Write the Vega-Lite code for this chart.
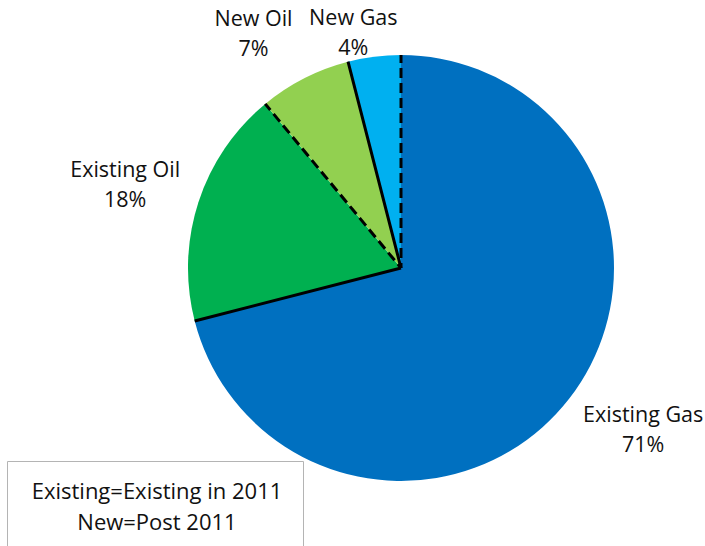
{
  "$schema": "https://vega.github.io/schema/vega-lite/v6.json",
  "width": 426,
  "height": 426,
  "autosize": {"type": "none"},
  "padding": {"left": 188, "top": 55, "right": 91, "bottom": 65},
  "background": "white",
  "config": {"view": {"stroke": null}, "font": "Open Sans"},
  "datasets": {
    "shares": [
      {"source": "Existing Gas", "share": 71, "label": "Existing Gas\n71%"},
      {"source": "Existing Oil", "share": 18, "label": "Existing Oil\n18%"},
      {"source": "New Oil", "share": 7, "label": "New Oil\n7%"},
      {"source": "New Gas", "share": 4, "label": "New Gas\n4%"}
    ],
    "note": [
      {"note": "Existing=Existing in 2011"},
      {"note": "New=Post 2011"}
    ]
  },
  "data": {"name": "shares"},
  "layer": [
    {
      "mark": {"type": "arc", "outerRadius": 213},
      "encoding": {
        "theta": {"field": "share", "type": "quantitative", "stack": true, "scale": {"domain": [0, 100]}},
        "order": {"field": "share", "type": "quantitative", "sort": "descending"},
        "color": {
          "field": "source",
          "type": "nominal",
          "scale": {
            "domain": ["Existing Gas", "Existing Oil", "New Oil", "New Gas"],
            "range": ["#0070C0", "#00B050", "#92D050", "#00B0F0"]
          },
          "legend": null
        }
      }
    },
    {
      "transform": [
        {"stack": "share", "groupby": [], "sort": [{"field": "share", "order": "descending"}], "as": ["s0", "s1"]},
        {"filter": "datum.source === 'Existing Oil' || datum.source === 'New Gas'"}
      ],
      "mark": {"type": "arc", "outerRadius": 213, "stroke": "black", "strokeWidth": 3, "fillOpacity": 0},
      "encoding": {
        "theta": {"field": "s0", "type": "quantitative", "stack": null},
        "theta2": {"field": "s0"}
      }
    },
    {
      "transform": [
        {"stack": "share", "groupby": [], "sort": [{"field": "share", "order": "descending"}], "as": ["s0", "s1"]},
        {"filter": "datum.source === 'Existing Gas' || datum.source === 'New Oil'"}
      ],
      "mark": {"type": "arc", "outerRadius": 213, "stroke": "black", "strokeWidth": 3, "fillOpacity": 0, "strokeDash": [10, 5], "strokeDashOffset": 2},
      "encoding": {
        "theta": {"field": "s0", "type": "quantitative", "stack": null},
        "theta2": {"field": "s0"}
      }
    },
    {
      "mark": {"type": "text", "radius": 290, "dx": 13, "dy": -24, "align": "center", "baseline": "alphabetic", "lineBreak": "\n", "lineHeight": 30, "fontSize": 21.5, "font": "Open Sans", "color": "#111111"},
      "encoding": {
        "theta": {"field": "share", "type": "quantitative", "stack": true},
        "order": {"field": "share", "type": "quantitative", "sort": "descending"},
        "text": {"condition": {"test": "datum.source === 'Existing Gas'", "field": "label"}, "value": ""}
      }
    },
    {
      "mark": {"type": "text", "radius": 290, "dx": 0, "dy": -1, "align": "center", "baseline": "alphabetic", "lineBreak": "\n", "lineHeight": 30, "fontSize": 21.5, "font": "Open Sans", "color": "#111111"},
      "encoding": {
        "theta": {"field": "share", "type": "quantitative", "stack": true},
        "order": {"field": "share", "type": "quantitative", "sort": "descending"},
        "text": {"condition": {"test": "datum.source === 'Existing Oil'", "field": "label"}, "value": ""}
      }
    },
    {
      "mark": {"type": "text", "radius": 272, "dx": -24, "dy": 0, "align": "center", "baseline": "alphabetic", "lineBreak": "\n", "lineHeight": 30, "fontSize": 21.5, "font": "Open Sans", "color": "#111111"},
      "encoding": {
        "theta": {"field": "share", "type": "quantitative", "stack": true},
        "order": {"field": "share", "type": "quantitative", "sort": "descending"},
        "text": {"condition": {"test": "datum.source === 'New Oil'", "field": "label"}, "value": ""}
      }
    },
    {
      "mark": {"type": "text", "radius": 245, "dx": -17, "dy": 0, "align": "center", "baseline": "alphabetic", "lineBreak": "\n", "lineHeight": 30, "fontSize": 21.5, "font": "Open Sans", "color": "#111111"},
      "encoding": {
        "theta": {"field": "share", "type": "quantitative", "stack": true},
        "order": {"field": "share", "type": "quantitative", "sort": "descending"},
        "text": {"condition": {"test": "datum.source === 'New Gas'", "field": "label"}, "value": ""}
      }
    },
    {
      "data": {"name": "note"},
      "mark": {"type": "point", "opacity": 0},
      "encoding": {
        "shape": {
          "field": "note",
          "type": "nominal",
          "scale": {"domain": ["Existing=Existing in 2011", "New=Post 2011"]},
          "legend": {
            "orient": "none",
            "legendX": -181,
            "legendY": 406,
            "title": null,
            "strokeColor": "#b4b4b4",
            "fillColor": "white",
            "padding": 20,
            "symbolSize": 0,
            "symbolOpacity": 0,
            "symbolStrokeWidth": 0,
            "labelFont": "Open Sans",
            "labelFontSize": 22,
            "labelColor": "#111111",
            "labelAlign": "center",
            "labelOffset": 108,
            "labelLimit": 0,
            "rowPadding": 9
          }
        }
      }
    }
  ]
}
